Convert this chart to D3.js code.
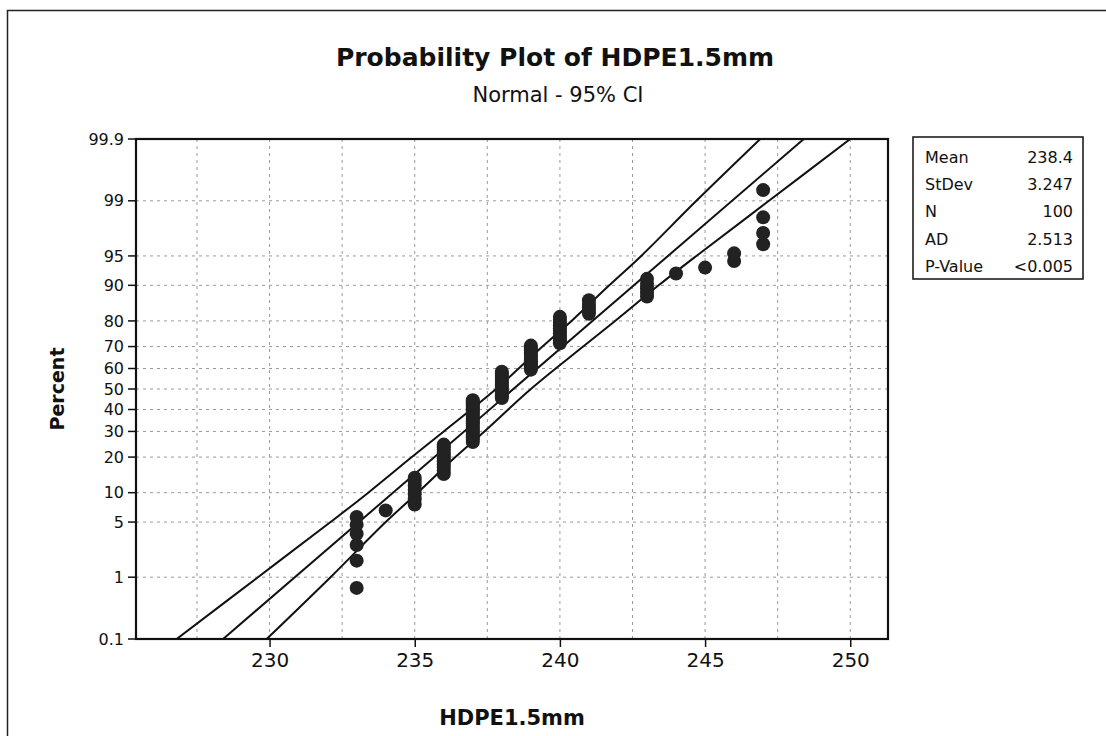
<!DOCTYPE html>
<html>
<head>
<meta charset="utf-8">
<script src="https://cdn.jsdelivr.net/npm/d3@7"></script>
<style>
  body { margin: 0; background: #fff; }
  text { font-family: "DejaVu Sans", Verdana, sans-serif; fill: #111; }
</style>
</head>
<body>
<div id="plot"></div>
<script>
// observed values and how many times each one occurs (n = 100)
var obsValues = [233, 234, 235, 236, 237, 238, 239, 240, 241, 243, 244, 245, 246, 247];
var obsCounts = [6, 1, 7, 11, 20, 14, 12, 11, 5, 5, 1, 1, 2, 4];

// fitted line, read at the bottom and top of the plot
var fitPct = [0.1, 99.9];
var fitX = [228.4, 248.4];

// 95% confidence band
var ciPct = [0.1, 1, 5, 10, 20, 30, 50, 70, 80, 90, 95, 99, 99.9];
var ciLower = [226.8, 229.6, 232.1, 233.4, 234.9, 236.0, 237.8, 239.4, 240.4, 241.7, 242.8, 244.7, 246.9];
var ciUpper = [229.9, 232.1, 234.0, 235.1, 236.4, 237.4, 239.0, 240.8, 241.9, 243.4, 244.7, 247.2, 250.0];

// axis ticks
var xTicks = [230, 235, 240, 245, 250];
var xGrid = [227.5, 230, 232.5, 235, 237.5, 240, 242.5, 245, 247.5, 250];
var yTicks = [0.1, 1, 5, 10, 20, 30, 40, 50, 60, 70, 80, 90, 95, 99, 99.9];

// stats box
var statLabels = ["Mean", "StDev", "N", "AD", "P-Value"];
var statValues = ["238.4", "3.247", "100", "2.513", "<0.005"];

var W = 1106, H = 736;
var plot = {left: 136, right: 888, top: 139, bottom: 639};

var svg = d3.select("#plot")
  .append("svg")
    .attr("width", W)
    .attr("height", H);

svg.append("rect")
  .attr("width", W).attr("height", H)
  .attr("fill", "#fff");

// outer border of the graph window
svg.append("rect")
  .attr("x", 7.5).attr("y", 10.5)
  .attr("width", W + 20).attr("height", H + 20)
  .attr("fill", "none")
  .attr("stroke", "#222")
  .attr("stroke-width", 1.5);

// inverse normal cdf (Acklam) for the probability axis
function probit(p) {
  var a = [-3.969683028665376e+01, 2.209460984245205e+02, -2.759285104469687e+02, 1.383577518672690e+02, -3.066479806614716e+01, 2.506628277459239e+00];
  var b = [-5.447609879822406e+01, 1.615858368580409e+02, -1.556989798598866e+02, 6.680131188771972e+01, -1.328068155288572e+01];
  var c = [-7.784894002430293e-03, -3.223964580411365e-01, -2.400758277161838e+00, -2.549732539343734e+00, 4.374664141464968e+00, 2.938163982698783e+00];
  var d = [7.784695709041462e-03, 3.224671290700398e-01, 2.445134137142996e+00, 3.754408661907416e+00];
  var q, r;
  if (p < 0.02425) {
    q = Math.sqrt(-2 * Math.log(p));
    return (((((c[0]*q+c[1])*q+c[2])*q+c[3])*q+c[4])*q+c[5]) / ((((d[0]*q+d[1])*q+d[2])*q+d[3])*q+1);
  } else if (p > 1 - 0.02425) {
    q = Math.sqrt(-2 * Math.log(1 - p));
    return -(((((c[0]*q+c[1])*q+c[2])*q+c[3])*q+c[4])*q+c[5]) / ((((d[0]*q+d[1])*q+d[2])*q+d[3])*q+1);
  }
  q = p - 0.5; r = q * q;
  return (((((a[0]*r+a[1])*r+a[2])*r+a[3])*r+a[4])*r+a[5])*q / (((((b[0]*r+b[1])*r+b[2])*r+b[3])*r+b[4])*r+1);
}

// scales
var x = d3.scaleLinear()
  .domain([225.4, 251.3])
  .range([plot.left, plot.right]);

var zScale = d3.scaleLinear()
  .domain([probit(0.001), probit(0.999)])
  .range([plot.bottom, plot.top]);
var y = function(pct) { return zScale(probit(pct / 100)); };

var g = svg.append("g");

// grid
g.selectAll("vgrid")
  .data(xGrid)
  .enter()
  .append("line")
    .attr("x1", function(d) { return x(d); })
    .attr("x2", function(d) { return x(d); })
    .attr("y1", plot.top)
    .attr("y2", plot.bottom)
    .attr("stroke", "#9a9a9a")
    .attr("stroke-width", 1)
    .attr("stroke-dasharray", "3,4");

g.selectAll("hgrid")
  .data(yTicks.slice(1, -1))
  .enter()
  .append("line")
    .attr("x1", plot.left)
    .attr("x2", plot.right)
    .attr("y1", function(d) { return y(d); })
    .attr("y2", function(d) { return y(d); })
    .attr("stroke", "#9a9a9a")
    .attr("stroke-width", 1)
    .attr("stroke-dasharray", "3,4");

// clip lines to the plot area
svg.append("clipPath").attr("id", "clip")
  .append("rect")
    .attr("x", plot.left).attr("y", plot.top)
    .attr("width", plot.right - plot.left)
    .attr("height", plot.bottom - plot.top);

var line = d3.line()
  .x(function(d) { return x(d[0]); })
  .y(function(d) { return y(d[1]); })
  .curve(d3.curveCatmullRom);

var lines = g.append("g").attr("clip-path", "url(#clip)");

lines.append("path")
  .datum(fitX.map(function(v, i) { return [v, fitPct[i]]; }))
  .attr("d", line)
  .attr("fill", "none")
  .attr("stroke", "#111")
  .attr("stroke-width", 2);

[ciLower, ciUpper].forEach(function(arr) {
  lines.append("path")
    .datum(arr.map(function(v, i) { return [v, ciPct[i]]; }))
    .attr("d", line)
    .attr("fill", "none")
    .attr("stroke", "#111")
    .attr("stroke-width", 2);
});

// points, plotted at median ranks
var n = d3.sum(obsCounts);
var points = [];
obsValues.forEach(function(v, k) {
  for (var j = 0; j < obsCounts[k]; j++) points.push(v);
});
g.selectAll("pts")
  .data(points)
  .enter()
  .append("circle")
    .attr("cx", function(d) { return x(d); })
    .attr("cy", function(d, i) { return y((i + 1 - 0.3) / (n + 0.4) * 100); })
    .attr("r", 7)
    .attr("fill", "#222");

// frame
g.append("rect")
  .attr("x", plot.left).attr("y", plot.top)
  .attr("width", plot.right - plot.left)
  .attr("height", plot.bottom - plot.top)
  .attr("fill", "none")
  .attr("stroke", "#111")
  .attr("stroke-width", 2.2);

// x axis
var xAxis = svg.append("g")
  .attr("transform", "translate(0," + plot.bottom + ")")
  .call(d3.axisBottom(x).tickValues(xTicks).tickSize(8).tickSizeOuter(0).tickFormat(d3.format("d")));
xAxis.select(".domain").remove();
xAxis.selectAll(".tick line").attr("stroke", "#111").attr("stroke-width", 1.5);
xAxis.selectAll("text")
  .attr("y", 14)
  .style("font-size", "20px");

// y axis
var yAxis = svg.append("g")
  .attr("transform", "translate(" + plot.left + ",0)");
var yt = yAxis.selectAll(".tick")
  .data(yTicks)
  .enter()
  .append("g")
    .attr("transform", function(d) { return "translate(0," + y(d) + ")"; });
yt.append("line")
  .attr("x1", -8).attr("x2", 0)
  .attr("stroke", "#111").attr("stroke-width", 1.5);
yt.append("text")
  .attr("x", -12)
  .attr("dy", "0.35em")
  .attr("text-anchor", "end")
  .style("font-size", "16px")
  .text(function(d) { return d; });

// titles
svg.append("text")
  .attr("x", 555).attr("y", 66)
  .attr("text-anchor", "middle")
  .style("font-size", "25px")
  .style("font-weight", "bold")
  .text("Probability Plot of HDPE1.5mm");

svg.append("text")
  .attr("x", 558).attr("y", 102)
  .attr("text-anchor", "middle")
  .style("font-size", "21px")
  .text("Normal - 95% CI");

svg.append("text")
  .attr("x", (plot.left + plot.right) / 2).attr("y", 725)
  .attr("text-anchor", "middle")
  .style("font-size", "21px")
  .style("font-weight", "bold")
  .text("HDPE1.5mm");

svg.append("text")
  .attr("transform", "translate(64," + ((plot.top + plot.bottom) / 2) + ") rotate(-90)")
  .attr("text-anchor", "middle")
  .style("font-size", "19px")
  .style("font-weight", "bold")
  .text("Percent");

// stats box
var box = svg.append("g");
box.append("rect")
  .attr("x", 913).attr("y", 137)
  .attr("width", 170).attr("height", 142)
  .attr("fill", "#fff")
  .attr("stroke", "#111")
  .attr("stroke-width", 1.5);

box.selectAll("lab")
  .data(statLabels)
  .enter()
  .append("text")
    .attr("x", 925)
    .attr("y", function(d, i) { return 163 + i * 27.2; })
    .style("font-size", "16px")
    .text(function(d) { return d; });

box.selectAll("val")
  .data(statValues)
  .enter()
  .append("text")
    .attr("x", 1073)
    .attr("y", function(d, i) { return 163 + i * 27.2; })
    .attr("text-anchor", "end")
    .style("font-size", "16px")
    .text(function(d) { return d; });
</script>
</body>
</html>
